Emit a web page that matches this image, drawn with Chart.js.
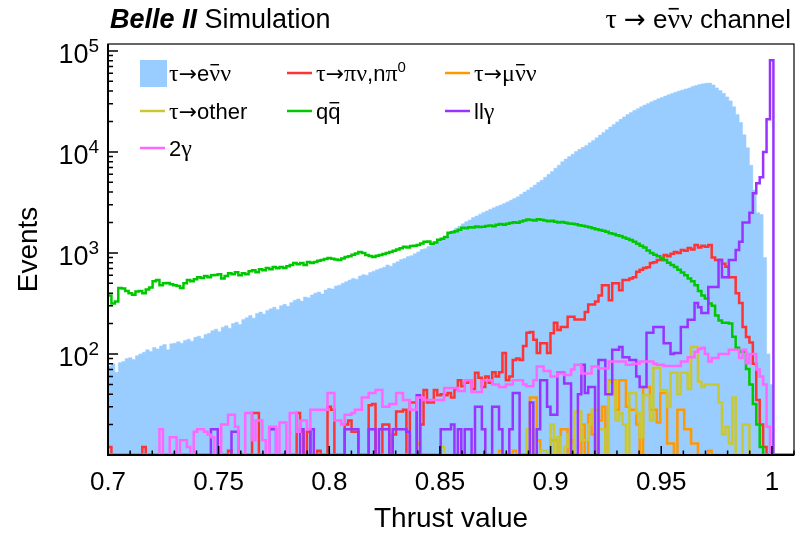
<!DOCTYPE html>
<html>
<head>
<meta charset="utf-8">
<script src="https://cdn.jsdelivr.net/npm/chart.js"></script>
<style>
  html, body { margin: 0; padding: 0; background: #fff; }
  canvas { display: block; }
</style>
</head>
<body>
<canvas id="thrustChart" width="797" height="534"></canvas>
<script>
/* =========================
   BINNING (200 bins, 0.7 -> 1.01)
========================= */
const binLow = 0.7;
const binWidth = 0.00155;

/* =========================
   EVENTS PER BIN
========================= */
const tauENuNu = [
  76,80,66,82,84,90,92,88,96,100,
  104,110,106,116,112,120,124,110,126,128,
  132,128,136,140,134,146,150,142,156,160,
  170,176,166,184,190,180,200,206,196,220,
  228,240,226,252,260,248,270,280,290,276,
  300,310,296,324,340,350,334,366,360,384,
  400,410,392,430,446,440,470,480,500,520,
  540,560,550,590,610,600,640,660,680,700,
  720,760,740,790,820,860,880,920,940,980,
  1020,1080,1100,1160,1200,1260,1330,1400,1460,1560,
  1660,1760,1840,1940,2040,2120,2240,2320,2420,2520,
  2600,2700,2800,2900,2980,3080,3200,3330,3450,3600,
  3800,4000,4200,4450,4700,5000,5250,5600,6000,6400,
  6900,7400,8000,8500,9000,9500,10100,10600,11100,11600,
  12300,13000,13800,14700,15600,16600,17600,18700,19800,21000,
  22200,23400,24600,25700,26800,28000,29100,30200,31300,32400,
  33500,34600,35700,36800,37900,39000,40000,41000,42000,43000,
  44500,45500,46500,47200,47800,48000,46000,43000,40500,38000,
  35000,32000,28000,23500,19500,14800,11000,7400,4200,2500,
  2400,900,100,50,0,0,0,0,0,0
];

const tauPiNu = [
  12,0,0,0,0,0,0,0,0,0,
  12,0,0,0,0,0,0,0,0,0,
  0,0,0,0,0,0,0,0,0,0,
  0,0,0,0,0,11,0,0,0,0,
  0,0,26,26,0,0,0,0,0,0,
  0,0,0,0,0,26,17,0,17,0,
  0,11,0,0,30,28,0,0,0,20,
  22,17,17,0,0,0,31,32,0,0,
  20,20,0,16,27,27,28,0,33,33,
  0,20,44,33,33,44,39,40,39,41,
  37,45,55,48,52,55,45,65,58,47,
  60,52,66,60,66,102,55,60,87,90,
  87,120,162,165,138,102,128,128,102,160,
  204,173,185,185,234,234,219,219,220,260,
  309,309,330,380,480,480,340,500,500,427,
  540,540,560,575,650,680,710,720,795,810,
  850,850,955,930,980,1020,1000,1070,1050,1120,
  1080,1200,1130,1180,1150,1200,900,850,850,780,
  730,575,575,400,320,185,147,130,80,35,
  20,12,0,0,0,0,0,0,0,0
];

const tauMuNuNu = [
  0,0,0,0,0,0,0,0,0,0,
  0,0,0,0,0,0,0,0,0,0,
  0,0,0,0,0,0,0,0,0,0,
  0,0,0,0,0,0,0,0,0,0,
  0,0,0,0,0,0,0,0,0,0,
  0,0,0,0,0,0,0,0,0,0,
  0,0,0,0,0,0,0,0,0,0,
  0,0,0,0,0,0,0,0,0,0,
  0,0,0,0,0,0,0,0,0,0,
  13,0,0,0,0,0,0,0,0,0,
  0,0,0,0,0,0,0,0,0,0,
  0,0,0,0,11,0,0,0,11,0,
  0,0,0,37,37,14,0,0,0,14,
  14,0,18,18,0,14,0,0,20,0,
  25,16,0,22,30,0,55,55,28,55,
  55,30,28,28,20,0,47,47,28,28,
  21,41,41,13,13,0,28,28,18,18,
  13,13,0,0,0,11,0,0,0,0,
  0,0,0,0,0,0,0,0,0,0,
  0,0,0,0,0,0,0,0,0,0
];

const tauOther = [
  0,0,0,0,0,0,0,0,0,0,
  0,0,0,0,0,0,0,0,0,0,
  0,0,0,0,0,0,0,0,0,0,
  0,0,0,0,0,0,0,0,0,0,
  0,0,0,0,0,0,0,0,0,0,
  0,0,0,0,0,0,0,0,0,0,
  0,0,0,0,0,0,0,0,0,0,
  0,0,0,0,0,0,0,0,0,0,
  0,0,0,0,0,0,0,0,0,0,
  0,0,0,0,0,0,0,12,0,0,
  0,0,0,0,0,0,0,0,0,0,
  0,0,0,0,0,0,0,0,0,0,
  0,0,18,18,0,0,11,11,0,20,
  0,15,0,12,16,0,27,27,14,14,
  20,28,28,18,18,0,53,53,22,26,
  20,0,41,41,26,15,39,39,22,73,
  73,44,44,30,65,65,40,65,65,45,
  117,117,53,47,50,50,50,50,33,16,
  19,13,37,0,0,20,20,0,0,0,
  0,0,0,0,0,0,0,0,0,0
];

const qqbar = [
  380,316,330,450,445,420,400,385,415,420,
  400,435,455,525,540,480,500,505,490,480,
  470,450,500,540,525,550,575,565,590,575,
  600,605,615,560,590,630,615,645,600,630,
  615,660,675,645,690,675,710,690,725,705,
  725,710,740,760,795,775,795,760,815,795,
  815,835,850,870,890,875,860,850,880,910,
  930,960,985,1020,1000,955,935,910,940,955,
  975,1000,1020,1050,1080,1110,1150,1130,1170,1180,
  1200,1240,1290,1300,1230,1270,1350,1380,1440,1580,
  1600,1640,1700,1780,1760,1800,1790,1830,1810,1820,
  1850,1870,1840,1900,1930,1900,1950,1980,2010,1990,
  2050,2100,2140,2120,2090,2150,2130,2100,2060,2080,
  2040,2000,2020,1990,1960,1940,1920,1880,1860,1830,
  1800,1760,1720,1690,1660,1620,1570,1540,1500,1470,
  1420,1380,1340,1290,1230,1180,1130,1060,1000,960,
  930,890,850,800,760,725,680,640,600,560,
  525,480,420,380,355,316,300,240,214,204,
  204,200,148,115,105,105,71,50,32,20,
  12,0,0,0,0,0,0,0,0,0
];

const llGamma = [
  0,0,0,0,0,0,0,0,0,0,
  0,0,0,0,0,0,0,0,0,0,
  0,0,0,0,0,0,0,0,0,0,
  18,18,0,0,0,0,17,17,0,0,
  0,0,0,0,0,0,0,18,18,0,
  0,0,0,0,0,0,18,0,0,18,
  0,0,0,0,0,0,0,0,0,18,
  18,18,18,0,0,0,18,18,0,18,
  18,18,0,18,18,18,18,17,0,0,
  39,0,0,0,0,0,0,18,18,18,
  20,0,18,0,18,18,0,30,30,18,
  0,0,30,30,18,0,0,18,41,41,
  0,0,0,33,0,18,55,55,30,25,
  25,65,65,51,51,0,0,40,78,41,
  47,47,0,87,87,40,40,110,110,117,
  93,93,87,87,60,47,47,162,162,185,
  185,185,128,128,100,102,102,185,185,218,
  218,320,290,255,255,460,460,460,850,575,
  575,850,850,1070,1290,2000,2000,2500,3900,4900,
  5600,10000,21000,81000,0,0,0,0,0,0
];

const twoGamma = [
  0,0,0,0,0,0,0,0,0,0,
  0,0,0,0,0,18,0,0,15,15,
  0,14,14,12,0,17,18,18,17,16,
  15,0,0,20,20,25,25,19,0,0,
  26,26,14,22,22,14,0,19,19,0,
  21,21,0,26,26,17,22,22,18,28,
  28,28,28,28,41,41,22,22,20,25,
  25,26,28,28,37,37,41,41,44,44,
  30,30,32,32,41,41,35,35,28,28,
  37,37,35,35,35,35,35,35,46,46,
  46,46,43,43,55,55,42,42,42,55,
  55,55,50,50,47,47,50,50,55,55,
  55,50,48,48,55,75,75,68,68,60,
  60,64,64,62,62,70,78,78,64,64,
  64,75,75,72,72,72,84,84,84,84,
  84,78,78,80,80,84,84,84,84,80,
  78,78,76,76,76,76,76,84,84,93,
  93,105,112,115,100,84,91,91,100,100,
  100,110,110,110,91,110,81,100,100,70,
  60,50,19,0,0,0,0,0,0,0
];

/* =========================
   LABELS / TICKS
========================= */
const seriesLabels = ["τ→e#bar{ν}ν", "τ→πν,nπ^{0}", "τ→μ#bar{ν}ν", "τ→other", "q#bar{q}", "llγ", "2γ"];
const seriesColors = ["#99ccff", "#ff3333", "#ff9900", "#c8c832", "#00c800", "#9933ff", "#ff66ff"];
const xTickValues = [0.7, 0.75, 0.8, 0.85, 0.9, 0.95, 1.0];
const xTickLabels = ["0.7", "0.75", "0.8", "0.85", "0.9", "0.95", "1"];
const yTickValues = [100, 1000, 10000, 100000];
const yTickLabels = ["10^{2}", "10^{3}", "10^{4}", "10^{5}"];

const X_MIN = 0.7, X_MAX = 1.01;
const Y_MIN = 10, Y_MAX = 1.17e5;
const FONT = '"Liberation Sans", "DejaVu Sans", Arial, sans-serif';
const GREEK_FONT = '"Liberation Serif", "DejaVu Serif", serif';
const ARROW_FONT = '"DejaVu Sans", sans-serif';

/* =========================
   HELPERS
========================= */

// step histogram points: left edge of each bin + closing edge
function histPoints(vals) {
    const pts = vals.map((v, i) => ({ x: binLow + i * binWidth, y: v > Y_MIN ? v : Y_MIN }));
    pts.push({ x: binLow + vals.length * binWidth, y: pts[pts.length - 1].y });
    return pts;
}

// font family per character: greek letters look like Symbol, arrow wider
function familyFor(ch) {
    if (ch === "→") return ARROW_FONT;
    if (/[\u0370-\u03ff]/.test(ch)) return GREEK_FONT;
    return FONT;
}

// tiny ROOT-like markup: #bar{..} overline, ^{..} superscript
function drawRich(ctx, markup, x, y, size, align) {
    const tokens = [];
    const re = /#bar\{([^}]*)\}|\^\{([^}]*)\}|([^#^]+)/g;
    let m;
    while ((m = re.exec(markup))) {
        const kind = m[1] !== undefined ? "bar" : m[2] !== undefined ? "sup" : "n";
        const text = m[1] !== undefined ? m[1] : m[2] !== undefined ? m[2] : m[3];
        // split into runs of same font family
        let run = "", fam = null;
        for (const ch of text) {
            const f = familyFor(ch);
            if (fam !== null && f !== fam) {
                tokens.push({ t: run, kind, fam });
                run = "";
            }
            run += ch;
            fam = f;
        }
        if (run) tokens.push({ t: run, kind, fam });
    }
    const fontFor = tk => {
        let s = tk.kind === "sup" ? Math.round(size * 0.7) : size;
        if (tk.fam === GREEK_FONT) s = Math.round(s * 1.08);
        return s + "px " + tk.fam;
    };
    let total = 0;
    tokens.forEach(tk => {
        ctx.font = fontFor(tk);
        tk.w = ctx.measureText(tk.t).width;
        total += tk.w;
    });
    let cx = align === "right" ? x - total : align === "center" ? x - total / 2 : x;
    ctx.textAlign = "left";
    ctx.textBaseline = "alphabetic";
    tokens.forEach(tk => {
        ctx.font = fontFor(tk);
        ctx.fillText(tk.t, cx, tk.kind === "sup" ? y - size * 0.42 : y);
        if (tk.kind === "bar") {
            ctx.lineWidth = Math.max(1, size * 0.065);
            ctx.beginPath();
            ctx.moveTo(cx + tk.w * 0.1, y - size * 0.74);
            ctx.lineTo(cx + tk.w * 0.9, y - size * 0.74);
            ctx.stroke();
        }
        cx += tk.w;
    });
    return total;
}

/* =========================
   FRAME, AXES, LEGEND, TITLES
========================= */
const rootStyle = {
    id: "rootStyle",
    beforeDraw(chart) {
        const ctx = chart.ctx;
        ctx.save();
        ctx.fillStyle = "#fff";
        ctx.fillRect(0, 0, chart.width, chart.height);
        ctx.restore();
    },
    afterDatasetsDraw(chart) {
        const ctx = chart.ctx;
        const a = chart.chartArea;
        const xs = chart.scales.x, ys = chart.scales.y;
        ctx.save();
        ctx.strokeStyle = "#000";
        ctx.fillStyle = "#000";

        // frame
        ctx.lineWidth = 1.2;
        ctx.strokeRect(a.left, a.top, a.right - a.left, a.bottom - a.top);
        ctx.lineWidth = 2;
        ctx.beginPath();
        ctx.moveTo(a.left, a.top);
        ctx.lineTo(a.left, a.bottom);
        ctx.lineTo(a.right, a.bottom);
        ctx.stroke();

        // x ticks (minor every 0.01)
        ctx.lineWidth = 1.5;
        ctx.beginPath();
        for (let k = 70; k <= 101; k++) {
            const px = xs.getPixelForValue(k / 100);
            const len = k % 5 === 0 ? 9 : 4.5;
            ctx.moveTo(px, a.bottom);
            ctx.lineTo(px, a.bottom - len);
        }
        // y ticks (decades + 2..9)
        for (let d = 10; d <= 100000; d *= 10) {
            for (let j = 1; j <= 9; j++) {
                const v = d * j;
                if (v < Y_MIN || v > Y_MAX) continue;
                const py = ys.getPixelForValue(v);
                ctx.moveTo(a.left, py);
                ctx.lineTo(a.left + (j === 1 ? 10 : 5), py);
            }
        }
        ctx.stroke();

        // tick labels
        ctx.font = "26px " + FONT;
        ctx.textAlign = "center";
        ctx.textBaseline = "alphabetic";
        xTickValues.forEach((v, i) => {
            ctx.fillText(xTickLabels[i], xs.getPixelForValue(v), 490);
        });
        yTickValues.forEach((v, i) => {
            drawRich(ctx, yTickLabels[i], 99, ys.getPixelForValue(v) + 12, 27, "right");
        });

        // axis titles
        ctx.font = "28px " + FONT;
        ctx.textAlign = "center";
        ctx.fillText("Thrust value", (a.left + a.right) / 2, 527);
        ctx.save();
        ctx.translate(37, (a.top + a.bottom) / 2);
        ctx.rotate(-Math.PI / 2);
        ctx.fillText("Events", 0, 0);
        ctx.restore();

        // top titles
        ctx.textAlign = "left";
        ctx.font = "italic bold 27px " + FONT;
        ctx.fillText("Belle II", 110, 28);
        const bw = ctx.measureText("Belle II ").width;
        ctx.font = "27px " + FONT;
        ctx.fillText("Simulation", 110 + bw, 28);
        drawRich(ctx, "τ → e#bar{ν}ν channel", 791, 28, 26, "right");

        // legend: 3 columns
        const cols = [140, 287, 445];
        const rows = [73, 111, 148];
        seriesLabels.forEach((lab, i) => {
            const cx = cols[i % 3], cy = rows[Math.floor(i / 3)];
            if (i === 0) {
                ctx.fillStyle = seriesColors[0];
                ctx.fillRect(cx, cy - 13, 27, 27);
            } else {
                ctx.strokeStyle = seriesColors[i];
                ctx.lineWidth = 2.5;
                ctx.beginPath();
                ctx.moveTo(cx, cy);
                ctx.lineTo(cx + 25, cy);
                ctx.stroke();
            }
            ctx.fillStyle = "#000";
            ctx.strokeStyle = "#000";
            drawRich(ctx, lab, cx + 29, cy + 8, 22, "left");
        });
        ctx.restore();
    }
};

/* =========================
   DATASETS
========================= */
const seriesData = [tauENuNu, tauPiNu, tauMuNuNu, tauOther, qqbar, llGamma, twoGamma];
const drawOrder = [10, 6, 5, 4, 3, 2, 1];

const datasets = seriesData.map((vals, i) => ({
    label: seriesLabels[i],
    data: histPoints(vals),
    stepped: true,
    pointRadius: 0,
    borderColor: seriesColors[i],
    borderWidth: i === 0 ? 0.5 : 2.5,
    backgroundColor: seriesColors[i],
    fill: i === 0 ? "start" : false,
    order: drawOrder[i]
}));

/* =========================
   CHART
========================= */
new Chart(document.getElementById("thrustChart").getContext("2d"), {
    type: "line",
    data: { datasets },
    options: {
        responsive: false,
        animation: false,
        events: [],
        layout: { padding: { left: 108, top: 44, right: 3, bottom: 79 } },
        scales: {
            x: { type: "linear", min: X_MIN, max: X_MAX, display: false },
            y: { type: "logarithmic", min: Y_MIN, max: Y_MAX, display: false }
        },
        plugins: {
            legend: { display: false },
            tooltip: { enabled: false }
        }
    },
    plugins: [rootStyle]
});
</script>
</body>
</html>
